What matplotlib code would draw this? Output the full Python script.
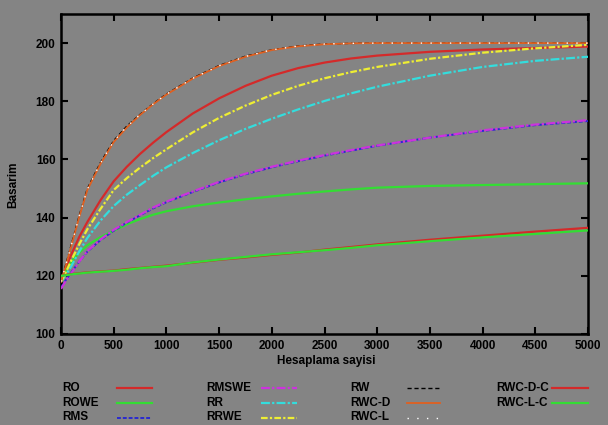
import matplotlib
matplotlib.use("Agg")
import matplotlib.pyplot as plt
from matplotlib.lines import Line2D

X = [0, 50, 100, 175, 250, 375, 500, 625, 750, 875, 1000, 1250, 1500, 1750,
     2000, 2250, 2500, 2750, 3000, 3500, 4000, 4500, 5000]

RO = [118, 123, 127.5, 133.5, 138.5, 146, 152.5, 157.5, 161.9, 165.8, 169.4, 175.8, 181, 185.3,
      188.8, 191.4, 193.3, 194.7, 195.7, 197, 197.8, 198.3, 198.8]
ROWE = [119, 122, 125, 128, 130.5, 133.3, 135.5, 137.7, 139.5, 141, 142.2, 143.9, 145.2, 146.3,
        147.3, 148.2, 149, 149.7, 150.3, 150.9, 151.2, 151.5, 151.8]
RMS = [116, 118.8, 121.3, 125, 128.3, 132.3, 135.5, 138.3, 140.8, 143.2, 145.3, 148.8, 152.1, 154.9,
       157.3, 159.4, 161.3, 163, 164.7, 167.5, 169.8, 171.8, 173.2]
RMSWE = [115.5, 118.5, 121, 125, 128.5, 132.5, 135.8, 138.5, 141, 143.5, 145.5, 149, 152.3, 155.1,
         157.5, 159.6, 161.5, 163.2, 164.8, 167.5, 170, 172, 173.5]
RR = [118, 120.5, 123.5, 128.5, 133, 139, 144, 147.9, 151.2, 154.4, 157.3, 162.2, 166.6, 170.5,
      174, 177.2, 180.1, 182.7, 185, 188.8, 191.8, 193.9, 195.3]
RRWE = [118, 121.5, 125.5, 131, 136, 143, 149.5, 153.6, 157.2, 160.5, 163.5, 169.3, 174.3, 178.5,
        182.2, 185.3, 187.9, 190, 191.8, 194.6, 196.7, 198.2, 199.4]
RW = [118, 124.5, 131, 141, 150, 159, 166.5, 171.5, 175.5, 179.2, 182.5, 188, 192.3, 195.5,
      197.7, 199, 199.7, 199.9, 200, 200, 200, 200, 200]
RWC_D = [118, 124, 130.5, 140.5, 149.5, 158.5, 166, 171, 175.3, 179, 182.3, 187.8, 192.1, 195.3,
         197.6, 198.9, 199.6, 199.9, 200, 200, 200, 200, 200]
RWC_L = [118, 124.3, 130.8, 140.8, 149.8, 158.8, 166.3, 171.3, 175.4, 179.1, 182.4, 187.9, 192.2, 195.4,
         197.7, 199, 199.7, 199.9, 200, 200, 200, 200, 200]
RWC_D_C = [120, 120.3, 120.6, 120.9, 121.2, 121.5, 121.8, 122.3, 122.7, 123.1, 123.5, 124.5, 125.5, 126.3,
           127.2, 128, 129, 129.9, 130.8, 132.4, 133.8, 135.2, 136.5]
RWC_L_C = [120, 120.2, 120.5, 120.8, 121.1, 121.4, 121.7, 122.1, 122.6, 123, 123.3, 124.6, 125.6, 126.5,
           127.4, 128.1, 128.8, 129.6, 130.5, 131.9, 133.2, 134.4, 135.6]

labels = ["RO", "ROWE", "RMS", "RMSWE", "RR", "RRWE", "RW", "RWC-D", "RWC-L", "RWC-D-C", "RWC-L-C"]
series = [RO, ROWE, RMS, RMSWE, RR, RRWE, RW, RWC_D, RWC_L, RWC_D_C, RWC_L_C]
styles = [
    dict(color="#d42a2a", lw=1.6, ls="-"),
    dict(color="#33dd33", lw=1.6, ls="-"),
    dict(color="#2a2ad0", lw=1.4, ls=(0, (2, 1))),
    dict(color="#cc33dd", lw=1.6, ls=(0, (4, 1, 1, 1))),
    dict(color="#33dddd", lw=1.6, ls=(0, (4, 1, 1, 1))),
    dict(color="#eeee33", lw=1.6, ls=(0, (3, 1, 1, 1))),
    dict(color="#000000", lw=1.0, ls=(0, (3, 2))),
    dict(color="#e06020", lw=1.3, ls="-"),
    dict(color="#ffffff", lw=1.0, ls=(0, (1, 6))),
    dict(color="#d42a2a", lw=1.6, ls="-"),
    dict(color="#33dd33", lw=1.6, ls="-"),
]

BG = "#848484"
FONT = dict(family="Liberation Sans", weight="bold", size=8.5)

fig = plt.figure(figsize=(6.08, 4.25), dpi=100, facecolor=BG)
ax = fig.add_axes([61 / 608, (425 - 334) / 425, 527 / 608, 320 / 425])
ax.set_facecolor(BG)

order = [0, 1, 3, 2, 4, 5, 9, 10, 7, 6, 8]
for i in order:
    ax.plot(X, series[i], **styles[i], zorder=3 + i * 0.01)

ax.set_xlim(0, 5000)
ax.set_ylim(100, 210)
ax.set_xticks(range(0, 5001, 500))
ax.set_yticks(range(100, 201, 20))
ax.tick_params(direction="in", length=5, width=1.5, top=True, right=True,
               labelsize=8.5, pad=4, colors="black")
for lab in ax.get_xticklabels() + ax.get_yticklabels():
    lab.set_fontfamily("Liberation Sans")
    lab.set_fontweight("bold")
for s in ax.spines.values():
    s.set_linewidth(1.8)
    s.set_color("black")

fig.text(326 / 608, 1 - 361 / 425, "Hesaplama sayisi", ha="center", va="center", **FONT)
fig.text(13 / 608, 1 - 185 / 425, "Basarim", ha="center", va="center", rotation=90, **FONT)

# manual key
text_x = [62, 206, 350, 496]
line_x = [(117, 152), (261, 297), (407, 440), (552, 588)]
row_y = [388, 402.5, 417.5]
for k, (lab, st) in enumerate(zip(labels, styles)):
    c, r = divmod(k, 3)
    y = 1 - row_y[r] / 425
    fig.text(text_x[c] / 608, y, lab, ha="left", va="center", **FONT)
    x0, x1 = line_x[c]
    fig.add_artist(Line2D([x0 / 608, x1 / 608], [y, y], transform=fig.transFigure, **st))

fig.savefig("out.png", dpi=100, facecolor=BG)
